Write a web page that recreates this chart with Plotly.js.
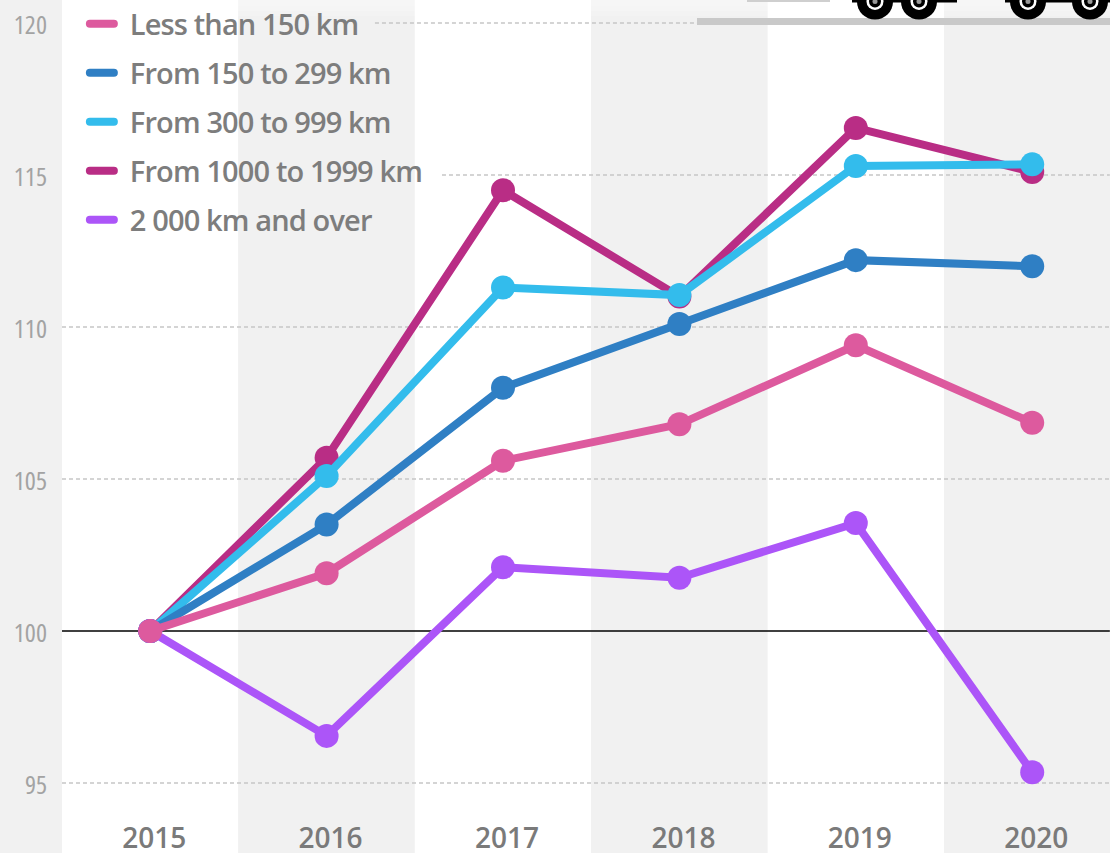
<!DOCTYPE html>
<html>
<head>
<meta charset="utf-8">
<script src="https://cdn.plot.ly/plotly-3.0.1.min.js"></script>
<style>
html,body{margin:0;padding:0;background:#f1f1f1;overflow:hidden}
#chart{width:1110px;height:853px}
#chart svg text{font-stretch:75% !important}
#chart svg .xtick text{font-stretch:100% !important}
#chart svg .legendtext{font-stretch:100% !important;letter-spacing:-0.87px}
#chart .legendlines path{stroke-linecap:round;d:path('M9,0h24')}
#chart .legendtext{transform:translate(9px,-2px)}
#chart .legendlines{transform:translateY(-1.5px)}
</style>
</head>
<body>
<div id="chart"></div>
<script>
const years = [2015, 2016, 2017, 2018, 2019, 2020];
const lessThan150 = [100, 101.9, 105.6, 106.8, 109.4, 106.85];
const from150to299 = [100, 103.5, 108, 110.1, 112.2, 112.0];
const from300to999 = [100, 105.1, 111.3, 111.05, 115.3, 115.35];
const from1000to1999 = [100, 105.7, 114.5, 111.0, 116.55, 115.1];
const over2000 = [100, 96.55, 102.1, 101.75, 103.55, 95.35];
const yTicks = [95, 100, 105, 110, 115, 120];

const FONT = '"Open Sans", "Noto Sans", sans-serif';
const W = 1110, H = 853, ML = 62, MB = 40;
const px = v => (v - ML) / (W - ML);
const py = v => 1 - v / (H - MB);

const legendOrder = [
  ['Less than 150 km', lessThan150, '#dd5a9e'],
  ['From 150 to 299 km', from150to299, '#2f7fc4'],
  ['From 300 to 999 km', from300to999, '#33bcec'],
  ['From 1000 to 1999 km', from1000to1999, '#b92d85'],
  ['2 000 km and over', over2000, '#ac55f8']
];
const drawOrder = [3, 2, 1, 4, 0];

const traces = [];
drawOrder.forEach(i => {
  const [name, vals, color] = legendOrder[i];
  traces.push({x: years, y: vals, name, type: 'scatter', mode: 'lines+markers',
    line: {color, width: 8}, marker: {color, size: 24}, showlegend: false, cliponaxis: false});
});
legendOrder.forEach(([name, , color], i) => {
  traces.push({x: [null], y: [null], name, type: 'scatter', mode: 'lines',
    line: {color, width: 8}, legendgroup: 'g' + i, showlegend: true});
});

const shapes = [];
years.forEach((y, i) => {
  shapes.push({type: 'rect', layer: 'below', xref: 'x', yref: 'paper', x0: y - 0.5, x1: y + 0.5,
    y0: -0.06, y1: 1, fillcolor: i % 2 ? '#f1f1f1' : '#ffffff', line: {width: 0}});
});
// soft fade at the very top of the plot
[16, 11, 6].forEach(h => {
  shapes.push({type: 'rect', layer: 'below', xref: 'paper', yref: 'paper', x0: 0, x1: 1, y0: py(h), y1: 1,
    fillcolor: 'rgba(255,255,255,0.18)', line: {width: 0}});
});
const gridStart = {120: 2016.274, 115: 2016.654};
[95, 105, 110, 115, 120].forEach(v => {
  shapes.push({type: 'line', layer: 'below', xref: 'x', yref: 'y', x0: gridStart[v] || 2014.5, x1: 2020.44,
    y0: v, y1: v, line: {color: '#c6c6c6', width: 1.5, dash: '4px 3px'}});
});
shapes.push({type: 'line', layer: 'below', xref: 'x', yref: 'y', x0: 2014.5, x1: 2020.44, y0: 100, y1: 100,
  line: {color: '#000000', width: 1.5}});
// truck silhouette at the top edge, cut by the window
shapes.push({type: 'rect', xref: 'paper', yref: 'paper', x0: px(697), x1: 1, y0: py(25), y1: py(18), fillcolor: '#c9c9c9', line: {width: 0}});
shapes.push({type: 'rect', xref: 'paper', yref: 'paper', x0: px(747), x1: px(830), y0: py(2), y1: 1, fillcolor: '#cfcfcf', line: {width: 0}});
[[852, 957], [1005, 1110]].forEach(([a, b]) => {
  shapes.push({type: 'rect', xref: 'paper', yref: 'paper', x0: px(a), x1: px(b), y0: py(2.5), y1: 1, fillcolor: '#000', line: {width: 0}});
});
[875, 919, 1028, 1090].forEach(c => {
  [[18, '#000'], [8.5, '#fff'], [6, '#000'], [2.5, '#999']].forEach(([r, col]) => {
    shapes.push({type: 'circle', xref: 'paper', yref: 'paper', x0: px(c - r), x1: px(c + r),
      y0: py(1.5 + r), y1: py(1.5 - r), fillcolor: col, line: {width: 0}});
  });
});

const layout = {
  width: W, height: H,
  margin: {l: ML, r: 0, t: 0, b: MB, pad: 0},
  paper_bgcolor: '#f1f1f1', plot_bgcolor: 'rgba(0,0,0,0)',
  showlegend: true,
  legend: {x: 0.018, xanchor: 'left', y: 1, yanchor: 'top', bgcolor: 'rgba(0,0,0,0)', borderwidth: 0,
    itemwidth: 30, tracegroupgap: 8.3, traceorder: 'grouped', itemclick: false,
    font: {family: FONT, size: 29, color: '#7d7d7d', weight: 600}},
  xaxis: {type: 'linear', range: [2014.5, 2020.441], tickvals: years, tickformat: 'd', showgrid: false, zeroline: false,
    showline: false, ticks: '', ticklabelshift: 4, ticklabelstandoff: 6,
    tickfont: {family: FONT, size: 28, color: '#7a7a7a', weight: 600}},
  yaxis: {range: [94.013, 120.757], tickvals: yTicks, showgrid: false, zeroline: false, showline: false, ticks: '',
    ticklabelstandoff: 14, ticklabelshift: 2, tickfont: {family: FONT, size: 26, color: '#a3a3a3'}},
  shapes,
  hovermode: false
};
Plotly.newPlot('chart', traces, layout, {displayModeBar: false});
</script>
</body>
</html>
